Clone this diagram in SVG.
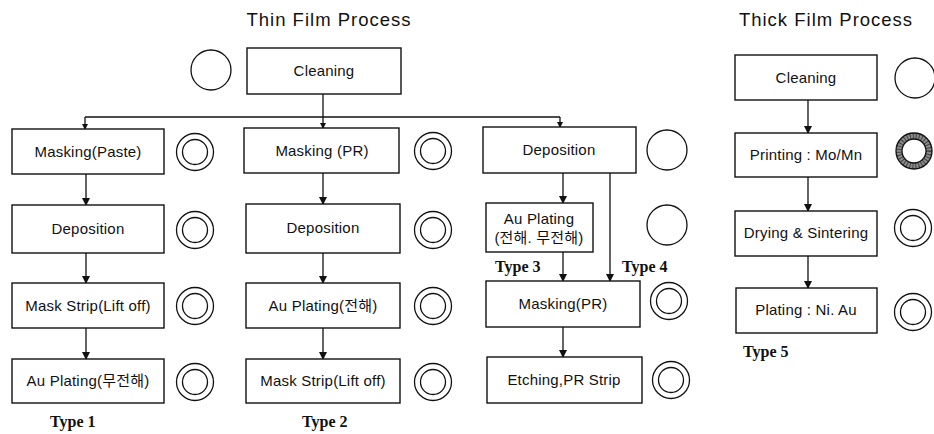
<svg xmlns="http://www.w3.org/2000/svg" width="934" height="434" viewBox="0 0 934 434">
  <style>
    .box { fill: #fff; stroke: #111; stroke-width: 1.4; }
    .lbl { font-family: "Liberation Sans", "Noto Sans CJK KR", sans-serif; font-size: 15px; letter-spacing: 0.2px; fill: #111; text-anchor: middle; }
    .title { font-family: "Liberation Sans", sans-serif; font-size: 18.5px; letter-spacing: 1px; fill: #111; text-anchor: middle; }
    .type { font-family: "Liberation Serif", serif; font-weight: bold; font-size: 16px; fill: #111; }
    .ring { fill: none; stroke: #111; stroke-width: 1.3; }
    .link { fill: none; stroke: #111; stroke-width: 1.3; }
  </style>
  <defs>
    <marker id="arrow" markerWidth="8" markerHeight="8" refX="7" refY="4" orient="auto" markerUnits="userSpaceOnUse">
      <path d="M0,0 L8,4 L0,8 Z" fill="#111"/>
    </marker>
    <marker id="arrowS" markerWidth="6" markerHeight="6" refX="5" refY="3" orient="auto" markerUnits="userSpaceOnUse">
      <path d="M0,0 L6,3 L0,6 Z" fill="#111"/>
    </marker>
    <!-- status symbols -->
    <g id="single"><circle r="20" class="ring"/></g>
    <g id="double"><circle r="18.5" class="ring"/><circle r="12.5" class="ring"/></g>
    <g id="hatched">
      <circle r="15" fill="none" stroke="#8a8a8a" stroke-width="6"/>
      <circle r="15" fill="none" stroke="#444" stroke-width="6" stroke-dasharray="1 2"/>
      <circle r="18" class="ring"/><circle r="12" class="ring"/>
    </g>
  </defs>

  <rect width="934" height="434" fill="#fff"/>

  <text class="title" x="329" y="26">Thin Film Process</text>
  <text class="title" x="826" y="26">Thick Film Process</text>

  <!-- connectors -->
  <g id="connectors">
    <path class="link" d="M323,94 V117"/>
    <path class="link" d="M85,117 H560"/>
    <path class="link" d="M85,117 V129" marker-end="url(#arrowS)"/>
    <path class="link" d="M323,117 V128" marker-end="url(#arrowS)"/>
    <path class="link" d="M560,117 V127" marker-end="url(#arrowS)"/>

    <path class="link" d="M86,174 V205" marker-end="url(#arrow)"/>
    <path class="link" d="M86,253 V283" marker-end="url(#arrow)"/>
    <path class="link" d="M86,328 V359" marker-end="url(#arrow)"/>

    <path class="link" d="M323,173 V204" marker-end="url(#arrow)"/>
    <path class="link" d="M323,253 V283" marker-end="url(#arrow)"/>
    <path class="link" d="M323,328 V359" marker-end="url(#arrow)"/>

    <path class="link" d="M563,173 V203" marker-end="url(#arrow)"/>
    <path class="link" d="M610,173 V281" marker-end="url(#arrow)"/>
    <path class="link" d="M563,252 V281" marker-end="url(#arrow)"/>
    <path class="link" d="M563,327 V357" marker-end="url(#arrow)"/>

    <path class="link" d="M808,100 V133" marker-end="url(#arrow)"/>
    <path class="link" d="M808,177 V211" marker-end="url(#arrow)"/>
    <path class="link" d="M808,256 V288" marker-end="url(#arrow)"/>
  </g>

  <!-- thin film: common start -->
  <g id="cleaning-thin">
    <rect class="box" x="247" y="48" width="154" height="46"/>
    <text class="lbl" x="324" y="76">Cleaning</text>
    <use href="#single" x="211" y="70"/>
  </g>

  <!-- Type 1 -->
  <g id="t1-masking">
    <rect class="box" x="12" y="129" width="152" height="45"/>
    <text class="lbl" x="88" y="157">Masking(Paste)</text>
    <use href="#double" x="195" y="152"/>
  </g>
  <g id="t1-deposition">
    <rect class="box" x="12" y="205" width="152" height="48"/>
    <text class="lbl" x="88" y="234">Deposition</text>
    <use href="#double" x="195" y="230"/>
  </g>
  <g id="t1-maskstrip">
    <rect class="box" x="12" y="283" width="152" height="45"/>
    <text class="lbl" x="88" y="311">Mask Strip(Lift off)</text>
    <use href="#double" x="195" y="306"/>
  </g>
  <g id="t1-plating">
    <rect class="box" x="12" y="359" width="152" height="44"/>
    <text class="lbl" x="88" y="386">Au Plating(무전해)</text>
    <use href="#double" x="195" y="382"/>
  </g>
  <text class="type" x="50" y="427">Type 1</text>

  <!-- Type 2 -->
  <g id="t2-masking">
    <rect class="box" x="244" y="128" width="155" height="45"/>
    <text class="lbl" x="322" y="156">Masking (PR)</text>
    <use href="#double" x="433" y="151"/>
  </g>
  <g id="t2-deposition">
    <rect class="box" x="246" y="204" width="154" height="49"/>
    <text class="lbl" x="323" y="233">Deposition</text>
    <use href="#double" x="433" y="230"/>
  </g>
  <g id="t2-plating">
    <rect class="box" x="246" y="283" width="154" height="45"/>
    <text class="lbl" x="323" y="311">Au Plating(전해)</text>
    <use href="#double" x="433" y="306"/>
  </g>
  <g id="t2-maskstrip">
    <rect class="box" x="246" y="359" width="154" height="44"/>
    <text class="lbl" x="323" y="386">Mask Strip(Lift off)</text>
    <use href="#double" x="433" y="382"/>
  </g>
  <text class="type" x="302" y="427">Type 2</text>

  <!-- Types 3 and 4 -->
  <g id="t34-deposition">
    <rect class="box" x="483" y="127" width="153" height="46"/>
    <text class="lbl" x="559" y="155">Deposition</text>
    <use href="#single" x="667" y="150"/>
  </g>
  <g id="t3-plating">
    <rect class="box" x="486" y="203" width="107" height="49"/>
    <text class="lbl" x="539" y="224">Au Plating</text>
    <text class="lbl" x="539" y="243">(전해. 무전해)</text>
    <use href="#single" x="667" y="225"/>
  </g>
  <text class="type" x="495" y="272">Type 3</text>
  <text class="type" x="622" y="272">Type 4</text>
  <g id="t34-masking">
    <rect class="box" x="486" y="281" width="154" height="46"/>
    <text class="lbl" x="563" y="309">Masking(PR)</text>
    <use href="#double" x="669" y="301"/>
  </g>
  <g id="t34-etching">
    <rect class="box" x="487" y="357" width="155" height="46"/>
    <text class="lbl" x="564" y="385">Etching,PR Strip</text>
    <use href="#double" x="671" y="380"/>
  </g>

  <!-- Type 5: thick film -->
  <g id="t5-cleaning">
    <rect class="box" x="735" y="55" width="142" height="45"/>
    <text class="lbl" x="806" y="83">Cleaning</text>
    <use href="#single" x="915" y="78"/>
  </g>
  <g id="t5-printing">
    <rect class="box" x="735" y="133" width="142" height="44"/>
    <text class="lbl" x="806" y="160">Printing : Mo/Mn</text>
    <use href="#hatched" x="914" y="151"/>
  </g>
  <g id="t5-drying">
    <rect class="box" x="735" y="211" width="142" height="45"/>
    <text class="lbl" x="806" y="238">Drying &amp; Sintering</text>
    <use href="#double" x="913" y="228"/>
  </g>
  <g id="t5-plating">
    <rect class="box" x="736" y="288" width="141" height="45"/>
    <text class="lbl" x="806" y="315">Plating : Ni. Au</text>
    <use href="#double" x="913" y="312"/>
  </g>
  <text class="type" x="743" y="357">Type 5</text>
</svg>
